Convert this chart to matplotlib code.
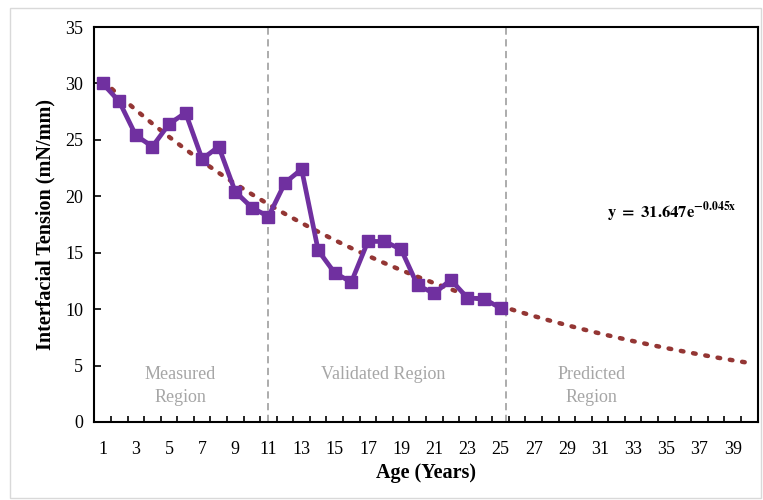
import matplotlib.pyplot as plt
import numpy as np
from matplotlib.patches import Rectangle

# measured / validated interfacial tension vs age
age = [1, 2, 3, 4, 5, 6, 7, 8, 9, 10, 11, 12, 13, 14, 15, 16, 17, 18, 19, 20, 21, 22, 23, 24, 25]
ift = [30.0, 28.4, 25.4, 24.4, 26.4, 27.4, 23.3, 24.4, 20.4, 19.0, 18.2, 21.2, 22.4, 15.2, 13.2,
       12.4, 16.0, 16.0, 15.3, 12.1, 11.4, 12.6, 11.0, 10.9, 10.1]

# exponential trendline y = a*exp(b*x)
fit_a = 31.647
fit_b = -0.045
n_cat = 40
region_edges = [11, 25.35]

plt.rcParams['font.family'] = ['Liberation Serif', 'DejaVu Serif']
plt.rcParams['mathtext.fontset'] = 'stix'

fig = plt.figure(figsize=(7.63, 5.0), dpi=100)
fig.patches.append(Rectangle((0.013, 0.004), 0.985, 0.98, transform=fig.transFigure,
                             fill=False, edgecolor='#d9d9d9', linewidth=1))
ax = fig.add_axes([0.1237, 0.156, 0.8691, 0.79])

xt = np.arange(1, n_cat + 1)
ax.plot(xt, fit_a * np.exp(fit_b * xt), color='#943634', linestyle=(0, (0.6, 2.2)),
        linewidth=3.2, dash_capstyle='round', zorder=3)
ax.plot(age, ift, color='#7030A0', linewidth=3.4, marker='s', markersize=9.2, zorder=4)

for xe in region_edges:
    ax.axvline(xe, color='#a6a6a6', linestyle=(0, (4, 2.5)), linewidth=1.3, zorder=1)

ax.set_xlim(0.5, n_cat + 0.5)
ax.set_ylim(0, 35)
ax.set_yticks(np.arange(0, 36, 5))
ax.set_xticks(np.arange(0.5, n_cat + 1, 1))
ax.set_xticklabels([])
ax.set_xticks(np.arange(1, n_cat + 1, 2), minor=True)
ax.set_xticklabels([str(v) for v in range(1, n_cat + 1, 2)], minor=True)
ax.tick_params(axis='x', which='major', direction='in', length=4, width=1.2)
ax.tick_params(axis='x', which='minor', length=0, pad=14, labelsize=13)
ax.tick_params(axis='y', direction='in', length=5, width=1.2, labelsize=13, pad=8)
for s in ax.spines.values():
    s.set_linewidth(1.5)

ax.set_xlabel('Age (Years)', fontsize=14.5, fontweight='bold', labelpad=3)
ax.set_ylabel('Interfacial Tension (mN/mm)', fontsize=14.5, fontweight='bold', labelpad=7)

gray = '#a6a6a6'
ax.text(5.7, 3.2, 'Measured\nRegion', color=gray, fontsize=13, ha='center', va='center',
        linespacing=1.45)
ax.text(17.9, 4.2, 'Validated Region', color=gray, fontsize=13, ha='center', va='center')
ax.text(30.5, 3.2, 'Predicted\nRegion', color=gray, fontsize=13, ha='center', va='center',
        linespacing=1.45)

ax.text(31.4, 18.6, r'$\mathbf{y\ =\ 31.647e^{-0.045x}}$', fontsize=12, ha='left', va='center')

fig.savefig('out.png', dpi=100)
